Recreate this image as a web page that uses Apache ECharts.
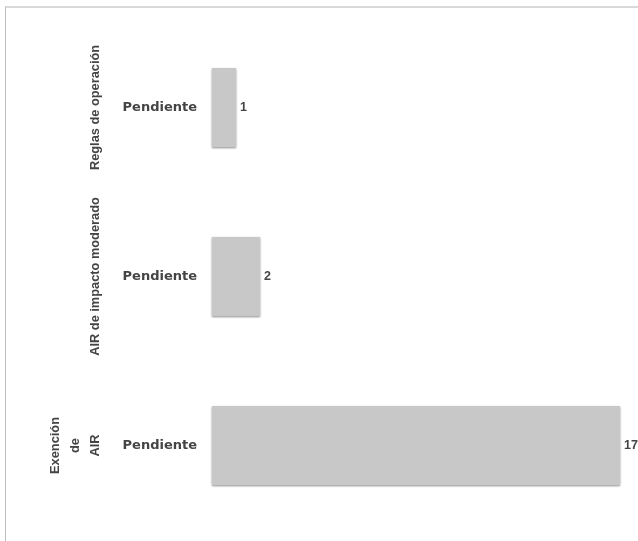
<!DOCTYPE html>
<html>
<head>
<meta charset="utf-8">
<script src="https://cdn.jsdelivr.net/npm/echarts@6/dist/echarts.min.js"></script>
<style>
  html, body { margin: 0; padding: 0; background: #fff; }
  #frame { position: absolute; left: 5px; top: 6px; width: 700px; height: 600px;
           border-top: 2px solid #d9d9d9; border-left: 1px solid #bdbdbd; }
  #main { position: absolute; left: 0; top: 0; width: 638px; height: 541px; }
</style>
</head>
<body>
<div id="frame"></div>
<div id="main"></div>
<script>
const groups = ['Reglas de operación', 'AIR de impacto moderado', 'Exención\nde\nAIR'];
const statuses = ['Pendiente', 'Pendiente', 'Pendiente'];
const values = [1, 2, 17];

const chart = echarts.init(document.getElementById('main'), null, { renderer: 'canvas' });
const wideFont = '"DejaVu Sans", Verdana, sans-serif';
const narrowFont = '"Liberation Sans", Arial, sans-serif';
chart.setOption({
  backgroundColor: 'transparent',
  animation: false,
  grid: { left: 212, right: 18, top: 23, bottom: 11, containLabel: false },
  xAxis: { type: 'value', min: 0, max: 17, show: false },
  yAxis: [
    {
      type: 'category', data: groups, inverse: true, position: 'left',
      axisLine: { show: false }, axisTick: { show: false }, splitLine: { show: false },
      axisLabel: {
        interval: 0, margin: 15, color: '#444', fontWeight: 'bold', fontSize: 13, fontFamily: wideFont,
        formatter: function (v, i) { return statuses[i]; }
      }
    },
    {
      type: 'category', data: groups, inverse: true, position: 'left', offset: 0,
      axisLine: { show: false }, axisTick: { show: false }, splitLine: { show: false },
      axisLabel: {
        interval: 0, margin: 107, rotate: 90, color: '#444', fontWeight: 'bold', fontSize: 12.8,
        fontFamily: narrowFont, lineHeight: 20, hideOverlap: false
      }
    }
  ],
  series: [{
    type: 'bar', data: values, yAxisIndex: 0, barWidth: 79,
    itemStyle: { color: '#c8c8c8', shadowColor: 'rgba(0,0,0,0.45)', shadowBlur: 2, shadowOffsetY: 1 },
    label: { show: true, position: 'right', distance: 4, color: '#444', fontWeight: 'bold', fontSize: 12.5, fontFamily: narrowFont }
  }]
});
</script>
</body>
</html>
